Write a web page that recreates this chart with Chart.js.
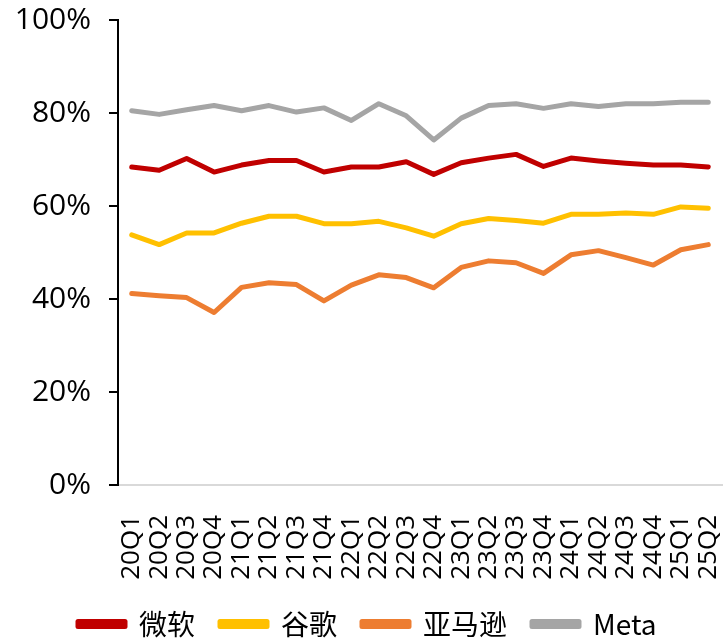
<!DOCTYPE html>
<html>
<head>
<meta charset="utf-8">
<script src="https://cdn.jsdelivr.net/npm/chart.js@4"></script>
<style>
  html, body { margin: 0; padding: 0; background: #fff; }
  #wrap { width: 724px; height: 642px; }
</style>
</head>
<body>
<div id="wrap"><canvas id="chart" width="724" height="642"></canvas></div>
<script>
const quarters = ['20Q1','20Q2','20Q3','20Q4','21Q1','21Q2','21Q3','21Q4','22Q1','22Q2','22Q3',
                  '22Q4','23Q1','23Q2','23Q3','23Q4','24Q1','24Q2','24Q3','24Q4','25Q1','25Q2'];
const microsoft = [68.4, 67.7, 70.2, 67.3, 68.8, 69.8, 69.8, 67.3, 68.4, 68.4, 69.5,
                   66.8, 69.3, 70.3, 71.1, 68.5, 70.3, 69.7, 69.2, 68.8, 68.8, 68.4];
const google = [53.8, 51.7, 54.2, 54.2, 56.3, 57.8, 57.8, 56.2, 56.2, 56.7, 55.3,
                53.5, 56.2, 57.3, 56.9, 56.3, 58.2, 58.2, 58.5, 58.2, 59.8, 59.5];
const amazon = [41.2, 40.7, 40.3, 37.1, 42.5, 43.5, 43.1, 39.6, 43.0, 45.2, 44.6,
                42.4, 46.8, 48.2, 47.8, 45.5, 49.5, 50.4, 48.9, 47.3, 50.6, 51.7];
const meta = [80.5, 79.7, 80.7, 81.6, 80.5, 81.6, 80.2, 81.1, 78.4, 82.0, 79.4,
              74.2, 78.9, 81.6, 82.0, 81.0, 82.0, 81.4, 82.0, 82.0, 82.3, 82.3];
const yTicks = [0, 20, 40, 60, 80, 100];

const tickFont = '"Open Sans", "Noto Sans", sans-serif';
const legendFont = '"Noto Sans CJK SC", "Noto Sans", sans-serif';

function line(label, data, color) {
    return {
        label: label,
        data: data,
        borderColor: color,
        backgroundColor: color,
        borderWidth: 5,
        borderCapStyle: 'round',
        borderJoinStyle: 'round',
        pointRadius: 0,
        tension: 0,
        fill: false
    };
}

// nudge the legend to the right, it sits left of centre in the original
const shiftLegend = {
    id: 'shiftLegend',
    afterLayout(chart) {
        chart.legend.left += 53;
        chart.legend.right += 53;
    }
};

const ctx = document.getElementById('chart').getContext('2d');
new Chart(ctx, {
    type: 'line',
    data: {
        labels: quarters,
        datasets: [
            line('微软', microsoft, '#C00000'),
            line('谷歌', google, '#FFC000'),
            line('亚马逊', amazon, '#ED7D31'),
            line('Meta', meta, '#A5A5A5')
        ]
    },
    plugins: [shiftLegend],
    options: {
        responsive: false,
        animation: false,
        layout: { padding: { top: 20, right: 2, left: 0, bottom: -6 } },
        plugins: {
            tooltip: { enabled: false },
            legend: {
                position: 'bottom',
                align: 'start',
                labels: {
                    color: '#000',
                    font: { family: legendFont, size: 28 },
                    boxWidth: 47,
                    boxHeight: 5,
                    padding: 25
                }
            }
        },
        scales: {
            x: {
                offset: true,
                grid: { display: false },
                border: { display: true, color: '#D9D9D9', width: 2 },
                afterFit: axis => { axis.paddingLeft = 0; axis.paddingRight = 0; axis.height = 100; },
                ticks: {
                    color: '#000',
                    font: { family: tickFont, size: 26 },
                    minRotation: 90,
                    maxRotation: 90,
                    autoSkip: false,
                    padding: 22
                }
            },
            y: {
                min: 0,
                max: 100,
                afterBuildTicks: axis => { axis.ticks = yTicks.map(v => ({ value: v })); },
                afterFit: axis => { axis.width = 118; axis.paddingTop = 0; axis.paddingBottom = 0; },
                grid: {
                    drawOnChartArea: false,
                    drawTicks: true,
                    tickLength: 9,
                    color: '#000',
                    lineWidth: 2
                },
                border: { display: true, color: '#000', width: 2 },
                ticks: {
                    color: '#000',
                    font: { family: tickFont, size: 30 },
                    padding: 18,
                    callback: v => v + '%'
                }
            }
        }
    }
});
</script>
</body>
</html>
